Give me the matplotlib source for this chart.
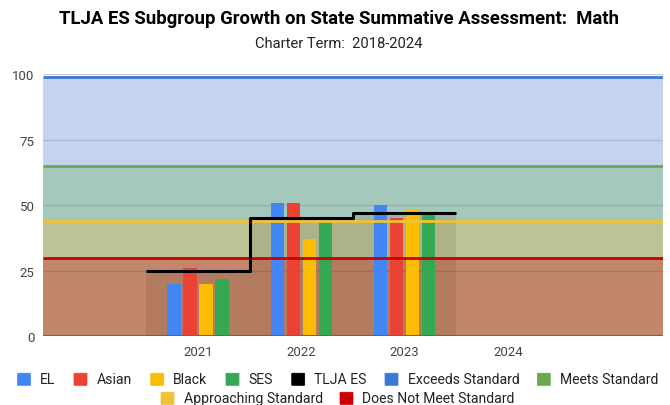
import matplotlib
matplotlib.use("Agg")
import matplotlib.pyplot as plt
from matplotlib.patches import FancyBboxPatch
import numpy as np

plt.rcParams['font.family'] = ['Roboto', 'DejaVu Sans']

# ---- data ----
categories = ["", "2021", "2022", "2023", "2024", ""]
years = ["2021", "2022", "2023"]
el = [20, 51, 50]
asian = [26, 51, 45]
black = [20, 37, 48]
ses = [22, 44, 47]
tlja_es = [25, 45, 47]
exceeds_std = 99
meets_std = 65
approaching_std = 44
not_meet_std = 30

W, H = 670, 406
fig = plt.figure(figsize=(W / 100, H / 100), dpi=100)
L, R, T, B = 43, 663, 75, 337.3
ax = fig.add_axes([L / W, (H - B) / H, (R - L) / W, (B - T) / H])

x = np.arange(len(categories))
xmin, xmax = -0.5, len(categories) - 0.5
ax.set_xlim(xmin, xmax)
ax.set_ylim(0, 100)

# ---- standard bands ----
bands = [
    (0, not_meet_std, '#c2876a', '#cc0000'),
    (not_meet_std, approaching_std, '#bcc497', '#f1c232'),
    (approaching_std, meets_std, '#a5c8bd', '#6aa84f'),
    (meets_std, exceeds_std, '#c4d3f0', '#3c78d8'),
]
for lo, hi, fc, lc in bands:
    ax.fill_between([xmin, xmax], [lo, lo], [hi, hi], color=fc, lw=0, zorder=1)
for lo, hi, fc, lc in bands:
    ax.plot([xmin, xmax], [hi, hi], color=lc, lw=2, zorder=6, solid_capstyle='butt')

# gridlines
for g in [25, 50, 75]:
    ax.axhline(g, color='black', alpha=0.12, lw=1, zorder=2)
ax.axhline(100, color='#cccccc', lw=1, zorder=2)

# ---- TLJA ES stepped area ----
yr_idx = np.array([categories.index(y) for y in years])
edges = np.concatenate([yr_idx - 0.5, [yr_idx[-1] + 0.5]])
ax.stairs(tlja_es, edges, fill=True, color='#3a2410', alpha=0.11, lw=0, zorder=3)
st = ax.stairs(tlja_es, edges, baseline=None, color='black', lw=2.2, zorder=7)
st.set_joinstyle('round')

# ---- bars ----
bw = 0.128
pitch = 0.155
series = [(el, '#4285f4'), (asian, '#ea4335'), (black, '#fbbc04'), (ses, '#34a853')]
for k, (vals, c) in enumerate(series):
    ax.bar(yr_idx + (k - 1.5) * pitch, vals, width=bw, color=c, zorder=5, lw=0)

# baseline
ax.axhline(0, color='#666666', lw=1.5, zorder=8)

# axes styling
for s in ax.spines.values():
    s.set_visible(False)
ax.set_yticks([0, 25, 50, 75, 100])
ax.set_yticklabels(['0', '25', '50', '75', '100'])
ax.set_xticks(x)
ax.set_xticklabels(categories)
ax.tick_params(axis='both', length=0, labelsize=9.5, labelcolor='#444444')
ax.tick_params(axis='y', pad=6)
ax.tick_params(axis='x', pad=6)

# ---- titles ----
fig.text(339 / W, 1 - 19 / H, 'TLJA ES Subgroup Growth on State Summative Assessment:  Math',
         ha='center', va='center', fontsize=13.3, fontweight='bold', color='#000000')
fig.text(339 / W, 1 - 44.5 / H, 'Charter Term:  2018-2024',
         ha='center', va='center', fontsize=10.6, color='#222222')

# ---- legend ----
legend_items = [
    ('EL', '#4285f4', 17.5, 380.3),
    ('Asian', '#ea4335', 74, 380.3),
    ('Black', '#fbbc04', 150.7, 380.3),
    ('SES', '#34a853', 226, 380.3),
    ('TLJA ES', '#000000', 291.7, 380.3),
    ('Exceeds Standard', '#3c78d8', 385, 380.3),
    ('Meets Standard', '#6aa84f', 537.3, 380.3),
    ('Approaching Standard', '#f1c232', 161, 399.3),
    ('Does Not Meet Standard', '#cc0000', 340, 399.3),
]
sq = 13
for label, c, px, py in legend_items:
    p = FancyBboxPatch(((px + 1) / W, (H - py - sq / 2 + 1) / H), (sq - 2) / W, (sq - 2) / H,
                       boxstyle='round,pad=0.0015', transform=fig.transFigure,
                       facecolor=c, edgecolor=c, lw=0.5)
    fig.add_artist(p)
    fig.text((px + sq + 9.5) / W, (H - py) / H, label, ha='left', va='center',
             fontsize=10.1, color='#222222')

fig.savefig('out.png', dpi=100)
